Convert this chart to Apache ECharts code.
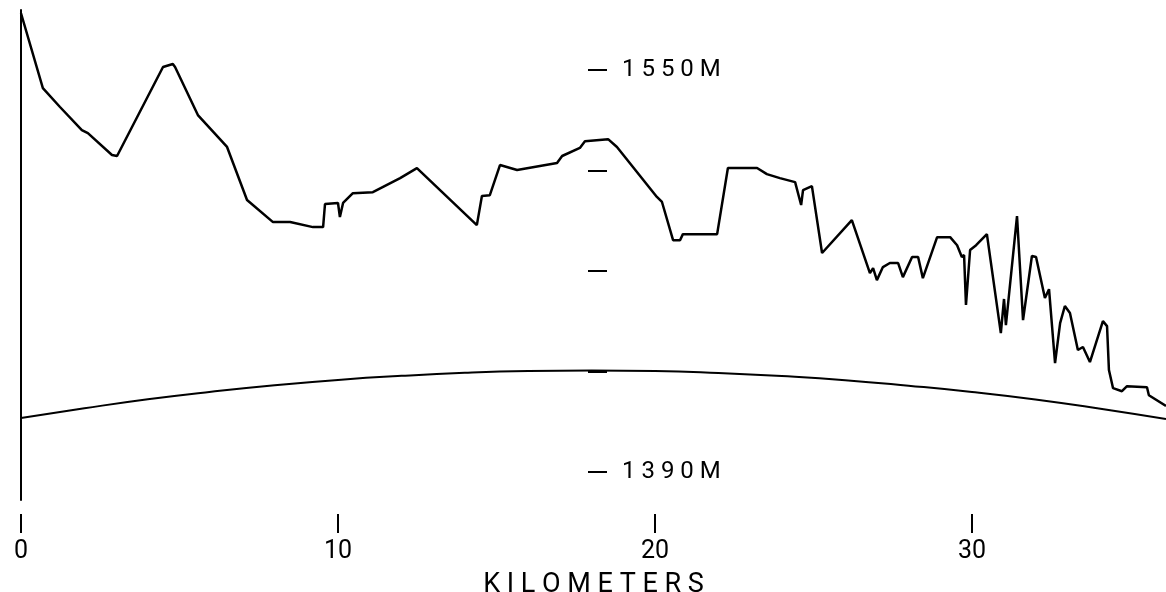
<!DOCTYPE html>
<html>
<head>
<meta charset="utf-8">
<script src="https://cdn.jsdelivr.net/npm/echarts@6/dist/echarts.min.js"></script>
<style>
  html, body { margin: 0; padding: 0; background: #fff; }
  #main { width: 1166px; height: 592px; }
</style>
</head>
<body>
<div id="main"></div>
<script>
// terrain profile, distance in km and elevation in m
var profileKm = [0, 0.69, 1.23, 1.92, 2.11, 2.87, 3.03, 4.48, 4.79, 4.86, 5.58, 6.50, 7.13, 7.95, 8.49, 9.21, 9.53, 9.59, 10.0, 10.06, 10.16, 10.47, 11.10, 11.96,
  12.49, 14.38, 14.54, 14.79, 15.11, 15.65, 16.37, 16.91, 17.07, 17.63, 17.79, 18.52, 18.80, 20.06, 20.22, 20.57, 20.79, 20.88, 21.96, 22.30, 23.22, 23.53, 23.94,
  24.42, 24.48, 24.61, 24.67, 24.95, 25.27, 26.21, 26.78, 26.88, 27.00, 27.19, 27.41, 27.67, 27.82, 28.11, 28.30, 28.45, 28.90, 29.31, 29.53, 29.68, 29.75, 29.81,
  29.94, 30.13, 30.47, 30.91, 31.01, 31.07, 31.42, 31.61, 31.89, 32.02, 32.30, 32.43, 32.62, 32.78, 32.93, 33.09, 33.34, 33.50, 33.72, 34.13, 34.26, 34.32, 34.45,
  34.73, 34.89, 35.52, 35.58, 36.12];
var profileElev = [1572.6, 1542.8, 1535.3, 1526.1, 1524.9, 1516.2, 1515.8, 1551.2, 1552.4, 1551.2, 1532.1, 1519.4, 1498.3, 1489.5, 1489.5, 1487.5, 1487.5, 1496.7, 1497.1, 1491.5, 1497.1, 1501.0, 1501.4, 1507.0,
  1511.0, 1488.3, 1499.9, 1500.2, 1512.2, 1510.2, 1511.8, 1513.0, 1515.8, 1519.0, 1521.7, 1522.5, 1519.4, 1499.5, 1497.5, 1482.3, 1482.3, 1484.7, 1484.7, 1511.0, 1511.0, 1508.6, 1507.0,
  1505.4, 1505.0, 1496.3, 1502.2, 1503.8, 1477.2, 1490.3, 1469.2, 1471.2, 1466.4, 1471.6, 1473.2, 1473.2, 1467.6, 1475.6, 1475.6, 1467.2, 1483.5, 1483.5, 1480.3, 1475.6, 1476.4, 1456.5,
  1478.4, 1480.3, 1484.7, 1445.3, 1458.9, 1448.5, 1491.9, 1450.5, 1476.0, 1475.6, 1459.3, 1462.8, 1433.4, 1449.3, 1456.1, 1453.3, 1438.6, 1439.8, 1433.8, 1450.1, 1448.1, 1430.6, 1423.4,
  1422.2, 1424.2, 1423.8, 1420.6, 1416.3];

// earth curvature line
var curveKm = [0, 2, 4, 6, 8, 10, 12, 14, 16, 18, 20, 22, 24, 26, 28, 30, 32, 34, 36.12];
var curveElev = [1411.5, 1415.4, 1419.0, 1422.0, 1424.6, 1426.7, 1428.3, 1429.5, 1430.2, 1430.4, 1430.2, 1429.4, 1428.2, 1426.6, 1424.4, 1421.9, 1418.9, 1415.3, 1411.1];

var elevTicks = [1550, 1510, 1470, 1430, 1390];
var elevLabels = [1550, 1390];
var kmTicks = [0, 10, 20, 30];

var font = 'Roboto, "DejaVu Sans", sans-serif';

function pairs (xs, ys) {
  var out = [];
  for (var i = 0; i < xs.length; i++) out.push([xs[i], ys[i]]);
  return out;
}

function spaced (s) {
  return String(s).split('').join(' ');
}

var chart = echarts.init(document.getElementById('main'));
var option = {
  animation: false,
  backgroundColor: '#fff',
  grid: { left: 21, right: 0, top: 10, bottom: 92, outerBoundsMode: 'none', containLabel: false },
  xAxis: {
    type: 'value',
    min: 0,
    max: 36.12,
    offset: 14,
    axisLine: { show: false },
    splitLine: { show: false },
    axisTick: { show: true, length: 19, customValues: kmTicks, lineStyle: { color: '#000', width: 2 } },
    axisLabel: {
      customValues: kmTicks,
      margin: 25,
      color: '#000',
      fontFamily: font,
      fontSize: 25
    },
    name: spaced('KILOMETERS'),
    nameLocation: 'middle',
    nameGap: 58,
    nameTextStyle: { color: '#000', fontFamily: font, fontSize: 27 }
  },
  yAxis: [
    {
      type: 'value',
      min: 1378.9,
      max: 1573.9,
      axisLine: { show: true, lineStyle: { color: '#000', width: 2 } },
      axisTick: { show: false },
      axisLabel: { show: false },
      splitLine: { show: false }
    },
    {
      type: 'value',
      min: 1378.9,
      max: 1573.9,
      position: 'left',
      offset: -567,
      axisLine: { show: false },
      splitLine: { show: false },
      axisTick: { show: true, inside: true, length: 19, customValues: elevTicks, lineStyle: { color: '#000', width: 2 } },
      axisLabel: {
        inside: true,
        margin: 34,
        customValues: elevLabels,
        formatter: function (v) { return spaced(v) + ' M'; },
        color: '#000',
        fontFamily: font,
        fontSize: 24
      }
    }
  ],
  series: [
    {
      type: 'line',
      data: pairs(profileKm, profileElev),
      symbol: 'none',
      lineStyle: { color: '#000', width: 2.5 }
    },
    {
      type: 'line',
      data: pairs(curveKm, curveElev),
      symbol: 'none',
      smooth: true,
      lineStyle: { color: '#000', width: 2 }
    }
  ]
};
chart.setOption(option);
</script>
</body>
</html>
